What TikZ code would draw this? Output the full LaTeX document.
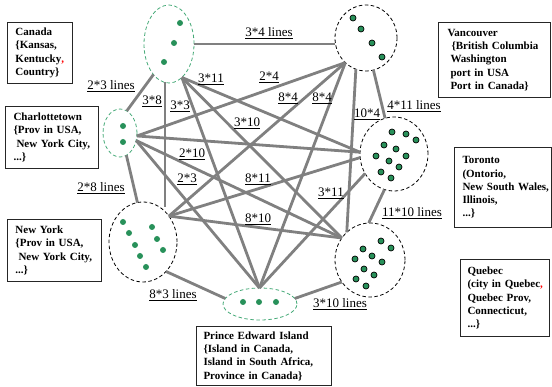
\documentclass[tikz,border=0pt]{standalone}
\usepackage{fontspec}
\setmainfont{Liberation Serif}
\usetikzlibrary{shapes.geometric}
\definecolor{edgegray}{RGB}{128,128,128}
\definecolor{dotgreen}{RGB}{40,145,90}
\definecolor{dashgreen}{RGB}{70,170,120}
% left inset of a line inside a description box
\newcommand{\ind}[1]{\hspace*{#1}}
\begin{document}
\begin{tikzpicture}[x=1pt,y=-1pt,
  grp/.style={ellipse, inner sep=0pt, outer sep=0pt, line width=0.8pt, dash pattern=on 3.5pt off 2.5pt},
  ggrp/.style={grp, draw=dashgreen},
  kgrp/.style={grp, draw=black},
  link/.style={draw=edgegray, line width=2.8pt},
  lbl/.style={font=\fontsize{13}{15}\selectfont, inner sep=0pt},
  infobox/.style={draw=black!85, line width=1pt, align=left, inner xsep=0pt, inner ysep=0pt,
    font=\fontsize{11}{13.3}\selectfont\bfseries, anchor=north west},
  gdot/.style={fill=dotgreen},
  kdot/.style={fill=dotgreen, draw=black, line width=0.7pt},
]
\path[use as bounding box] (0,0) rectangle (552,387);

% groups of entities
\node[ggrp, minimum width=50pt, minimum height=78pt] (can) at (169,44) {};
\node[ggrp, minimum width=34pt, minimum height=48pt] (ch) at (120,133) {};
\node[kgrp, minimum width=68pt, minimum height=80pt] (ny) at (143,242) {};
\node[ggrp, minimum width=74pt, minimum height=32pt] (pei) at (260,304) {};
\node[kgrp, minimum width=62pt, minimum height=66pt] (van) at (366,38) {};
\node[kgrp, minimum width=68pt, minimum height=74pt] (tor) at (394,154) {};
\node[kgrp, minimum width=70pt, minimum height=74pt] (que) at (370,260) {};

% links between groups
\draw[link] (can.east) -- (can.east -| van.west);
\draw[link] (can.-117) -- (ch.73);
\draw[link] (can.-96) -- ([yshift=-5pt]ny.north -| can.-96);
\draw[link] (can.-69) -- (pei.92);
\draw[link] (can.-69) -- (tor.177);
\draw[link] (can.-69) -- (que.142);
\draw[link] (ch.-10) -- (van.-130);
\draw[link] (ch.-10) -- (tor.177);
\draw[link] (ch.-25) -- (que.142);
\draw[link] (ch.-25) -- (pei.92);
\draw[link] (ch.-74) -- (ny.98);
\draw[link] (ny.45) -- (van.-130);
\draw[link] (ny.45) -- (tor.-174);
\draw[link] (ny.45) -- (que.142);
\draw[link] (ny.-52) -- (pei.171);
\draw[link] (pei.92) -- (van.-130);
\draw[link] (pei.92) -- (tor.-146);
\draw[link] (pei.9) -- (que.-142);
\draw[link] (van.-108) -- (que.130);
\draw[link] (van.-77) -- (tor.104);
\draw[link] (tor.-105) -- (que.92);

% link labels
\node[lbl] (l1) at (269,33) {\underline{3*4 lines}};
\node[lbl] (l2) at (111,86) {\underline{2*3 lines}};
\node[lbl] (l3) at (152,101) {\underline{3*8}};
\node[lbl] (l4) at (180,106) {\underline{3*3}};
\node[lbl] (l5) at (211,79) {\underline{3*11}};
\node[lbl] (l6) at (269,77) {\underline{2*4}};
\node[lbl] (l7) at (288,98) {\underline{8*4}};
\node[lbl] (l8) at (322,98) {\underline{8*4}};
\node[lbl] (l9) at (247,123) {\underline{3*10}};
\node[lbl] (l10) at (367,114) {\underline{10*4}};
\node[lbl] (l11) at (414,106) {\underline{4*11 lines}};
\node[lbl] (l12) at (192,154) {\underline{2*10}};
\node[lbl] (l13) at (187,179) {\underline{2*3}};
\node[lbl] (l14) at (258,179) {\underline{8*11}};
\node[lbl] (l15) at (258,219) {\underline{8*10}};
\node[lbl] (l16) at (331,193) {\underline{3*11}};
\node[lbl] (l17) at (412,213) {\underline{11*10 lines}};
\node[lbl] (l18) at (101,188) {\underline{2*8 lines}};
\node[lbl] (l19) at (173,295) {\underline{8*3 lines}};
\node[lbl] (l20) at (340,304) {\underline{3*10 lines}};

% entities inside the groups
\foreach \p in {(180,23),(174,43),(164,62)} \fill[gdot] \p circle (3pt);
\foreach \p in {(123,126),(123,142)} \fill[gdot] \p circle (3pt);
\foreach \p in {(123,222),(129,233),(135,245),(140,256),(146,267),(152,227),(157,239),(163,250)}
  \fill[gdot] \p circle (3pt);
\foreach \p in {(243,302),(259,302),(276,302)} \fill[gdot] \p circle (3pt);
\foreach \p in {(353,18),(361,29),(372,43),(382,57)} \filldraw[kdot] \p circle (3pt);
\foreach \p in {(392,132),(406,134),(416,140),(384,145),(396,149),(406,156),(376,156),(389,161),(399,167),(381,172),(391,178)}
  \filldraw[kdot] \p circle (3pt);
\foreach \p in {(381,241),(391,248),(363,249),(372,256),(355,259),(382,262),(364,269),(374,275),(356,279),(366,286)}
  \filldraw[kdot] \p circle (3pt);

% descriptions of the groups
\node[infobox, minimum width=65pt, minimum height=61pt, text width=65pt] (bcan) at (7,22)
  {\ind{8pt}Canada\\\ind{8pt}\{Kansas,\\\ind{8pt}Kentucky{\color{red},}\\\ind{8pt}Country\}};
\node[infobox, minimum width=93pt, minimum height=62pt, text width=93pt] (bch) at (5,106)
  {\ind{8pt}Charlottetown\\\ind{8pt}\{Prov in USA,\\\ind{11pt}New York City,\\\ind{8pt}...\}};
\node[infobox, minimum width=94pt, minimum height=62pt, text width=94pt] (bny) at (7,219)
  {\ind{8pt}New York\\\ind{8pt}\{Prov in USA,\\\ind{11pt}New York City,\\\ind{8pt}...\}};
\node[infobox, minimum width=135pt, minimum height=59pt, text width=135pt] (bpei) at (196,326)
  {\ind{7pt}Prince Edward Island\\\ind{7pt}\{Island in Canada,\\\ind{7pt}Island in South Africa,\\\ind{7pt}Province in Canada\}};
\node[infobox, minimum width=112pt, minimum height=75pt, text width=112pt] (bvan) at (438,22)
  {\ind{9pt}Vancouver\\\ind{13pt}\{British Columbia\\\ind{12pt}Washington\\\ind{12pt}port in USA\\\ind{12pt}Port in Canada\}};
\node[infobox, minimum width=97pt, minimum height=80pt, text width=97pt] (btor) at (454,147)
  {\ind{8pt}Toronto\\\ind{8pt}(Ontorio,\\\ind{8pt}New South Wales,\\\ind{8pt}Illinois,\\\ind{8pt}...\}};
\node[infobox, minimum width=89pt, minimum height=77pt, text width=89pt] (bque) at (460,259)
  {\ind{7pt}Quebec\\\ind{7pt}(city in Quebec{\color{red},}\\\ind{7pt}Quebec Prov,\\\ind{7pt}Connecticut,\\\ind{7pt}...\}};
\end{tikzpicture}
\end{document}
